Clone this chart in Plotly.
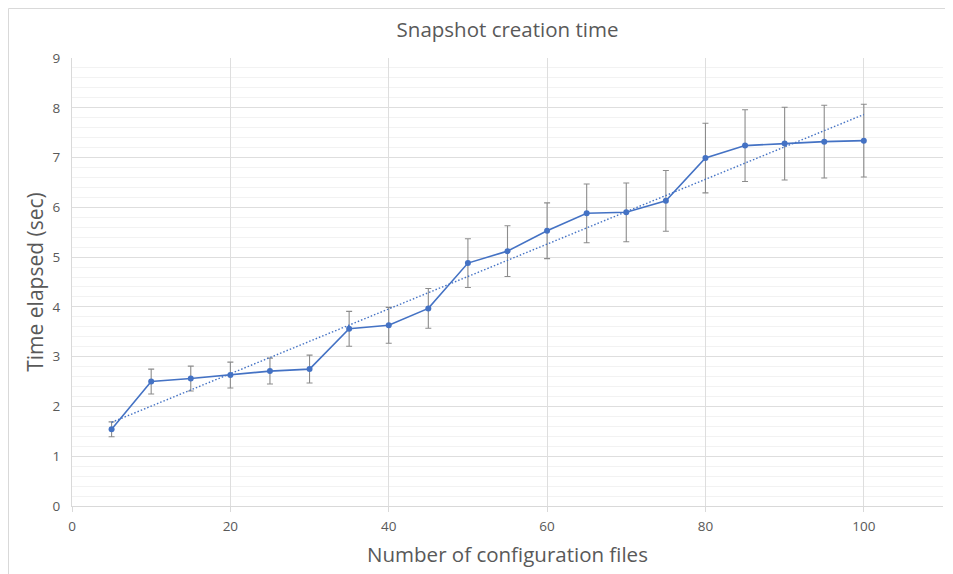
import numpy as np
import plotly.graph_objects as go

files = [5, 10, 15, 20, 25, 30, 35, 40, 45, 50, 55, 60, 65, 70, 75, 80, 85, 90, 95, 100]
time_sec = [1.54, 2.50, 2.56, 2.63, 2.71, 2.75, 3.56, 3.63, 3.97, 4.88, 5.12, 5.53, 5.88, 5.90, 6.13, 6.99, 7.24, 7.28, 7.32, 7.34]
err_sec = [0.15, 0.25, 0.25, 0.26, 0.26, 0.28, 0.35, 0.36, 0.40, 0.49, 0.51, 0.56, 0.59, 0.59, 0.61, 0.70, 0.72, 0.73, 0.73, 0.73]

slope, intercept = np.polyfit(files, time_sec, 1)
trend_x = [files[0], files[-1]]
trend_y = [slope * v + intercept for v in trend_x]

W, H = 945, 566
ml, mr, mt, mb = 64, 10, 50, 68
pw, ph = W - ml - mr, H - mt - mb

txt = "#595959"
blue = "#4472C4"
font = "Open Sans, Noto Sans, sans-serif"

fig = go.Figure()
fig.add_trace(go.Scatter(
    x=files, y=time_sec, mode="lines+markers",
    line=dict(color=blue, width=1.6),
    marker=dict(color=blue, size=6),
    error_y=dict(type="data", array=err_sec, visible=True, color="#8c8c8c", thickness=1.1, width=3),
    showlegend=False, hoverinfo="x+y",
))
fig.add_trace(go.Scatter(
    x=trend_x, y=trend_y, mode="lines",
    line=dict(color=blue, width=1.4, dash="1.5px,2px"),
    showlegend=False, hoverinfo="skip",
))

fig.update_layout(
    width=W, height=H,
    margin=dict(l=ml, r=mr, t=mt, b=mb, autoexpand=False),
    paper_bgcolor="white", plot_bgcolor="white",
    font=dict(family=font, color=txt, size=13),
    title=dict(text="Snapshot creation time", x=0.5, xref="paper", xanchor="center",
               y=1 - 22 / H, yanchor="middle", font=dict(size=20.5, color=txt)),
    shapes=[dict(type="rect", xref="paper", yref="paper",
                 x0=(0.5 - ml) / pw, x1=(W + 10 - ml) / pw,
                 y0=-(mb + 10) / ph, y1=(H - 0.5 - mb) / ph,
                 line=dict(color="#d9d9d9", width=1), layer="below")],
)
fig.update_xaxes(
    range=[0, 110], tickvals=[0, 20, 40, 60, 80, 100],
    showgrid=True, gridcolor="#dedede", gridwidth=1,
    showline=True, linecolor="#d9d9d9", linewidth=1,
    ticks="outside", ticklen=5, tickcolor="#d9d9d9",
    ticklabelstandoff=3,
    zeroline=False, tickfont=dict(size=13.5, color=txt),
    title=dict(text="Number of configuration files", font=dict(size=20.5, color=txt), standoff=13),
)
fig.update_yaxes(
    range=[0, 9], dtick=1,
    showgrid=True, gridcolor="#dedede", gridwidth=1,
    minor=dict(dtick=0.2, showgrid=True, gridcolor="#f2f2f2", gridwidth=1),
    showline=True, linecolor="#d9d9d9", linewidth=1,
    ticklabelstandoff=8,
    zeroline=False, tickfont=dict(size=13.5, color=txt),
    title=dict(text="Time elapsed (sec)", font=dict(size=21, color=txt), standoff=3),
)

fig.write_html("out.html")
